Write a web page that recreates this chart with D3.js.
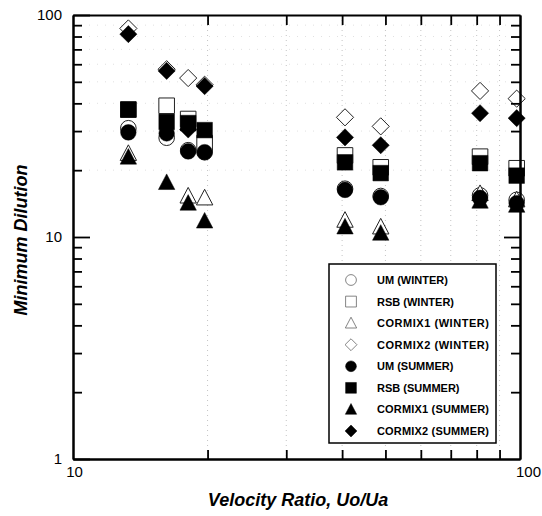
<!DOCTYPE html>
<html>
<head>
<meta charset="utf-8">
<script src="https://cdn.jsdelivr.net/npm/d3@7"></script>
<style>
  body { margin: 0; background: #fff; }
  svg { display: block; font-family: "Liberation Sans", Arial, sans-serif; }
</style>
</head>
<body>
<div id="chart"></div>
<script>
// velocity ratio positions of the point groups
const vr = [13.3, 16.2, 18.1, 19.7, 40.6, 48.8, 81.4, 98.3];

const umWinter      = [30.9, 28.0, 24.6, 24.1, 16.5, 15.3, 15.4, 14.7];
const rsbWinter     = [37.5, 39.0, 34.0, 26.5, 23.3, 20.6, 23.0, 20.4];
const cormix1Winter = [23.8, null, 15.3, 15.0, 11.9, 11.1, 15.7, 14.7];
const cormix2Winter = [87.0, 57.0, 52.0, 48.5, 34.6, 31.5, 45.5, 42.0];
const umSummer      = [29.6, 29.3, 24.3, 24.1, 16.3, 15.1, 15.0, 14.2];
const rsbSummer     = [37.5, 33.0, 32.6, 30.3, 21.7, 19.4, 21.5, 18.9];
const cormix1Summer = [22.9, 17.6, 14.2, 11.8, 11.1, 10.4, 14.5, 13.9];
const cormix2Summer = [82.0, 56.0, 30.5, 47.8, 28.1, 25.9, 36.1, 34.3];

const seriesNames = ["UM (WINTER)", "RSB (WINTER)", "CORMIX1 (WINTER)", "CORMIX2 (WINTER)",
                     "UM (SUMMER)", "RSB (SUMMER)", "CORMIX1 (SUMMER)", "CORMIX2 (SUMMER)"];
const seriesValues = [umWinter, rsbWinter, cormix1Winter, cormix2Winter,
                      umSummer, rsbSummer, cormix1Summer, cormix2Summer];
const seriesShape = ["circle", "square", "triangle", "diamond", "circle", "square", "triangle", "diamond"];
const seriesFilled = [false, false, false, false, true, true, true, true];

const xMajor = [10, 100];
const xMinor = [20, 30, 40, 50, 60, 70, 80, 90];
const yMajor = [1, 10, 100];
const yMinor = [2, 3, 4, 5, 6, 7, 8, 9, 20, 30, 40, 50, 60, 70, 80, 90];

const width = 542, height = 516;
const plotL = 73, plotR = 520, plotT = 15, plotB = 459;

const x = d3.scaleLog().domain([10, 100]).range([plotL, plotR]);
const y = d3.scaleLog().domain([1, 100]).range([plotB, plotT]);

const svg = d3.select("#chart").append("svg")
    .attr("width", width)
    .attr("height", height);

// faint dotted grid
svg.append("g").selectAll("line")
    .data(xMinor)
    .join("line")
    .attr("x1", d => x(d)).attr("x2", d => x(d))
    .attr("y1", plotT).attr("y2", plotB)
    .attr("stroke", "#aaa").attr("stroke-width", 0.7)
    .attr("stroke-dasharray", "1,4");
svg.append("g").selectAll("line")
    .data(yMinor.filter(d => d > 10))
    .join("line")
    .attr("x1", plotL).attr("x2", plotR)
    .attr("y1", d => y(d)).attr("y2", d => y(d))
    .attr("stroke", "#ccc").attr("stroke-width", 0.6)
    .attr("stroke-dasharray", "1,7");

function symbolPath(shape, s) {
  if (shape === "circle") return d3.symbol(d3.symbolCircle, s * s * Math.PI)();
  if (shape === "square") return d3.symbol(d3.symbolSquare, (2 * s) * (2 * s))();
  if (shape === "triangle") {
    const h = s * 2;
    return `M0,${-h * 0.55}L${s * 1.05},${h * 0.45}L${-s * 1.05},${h * 0.45}Z`;
  }
  return `M0,${-s * 1.1}L${s * 1.1},0L0,${s * 1.1}L${-s * 1.1},0Z`;
}

// points: winter (open) drawn first, summer (filled) on top
const pts = svg.append("g");
seriesValues.forEach((vals, i) => {
  const data = vals.map((v, j) => ({ x: vr[j], v: v })).filter(d => d.v != null);
  pts.append("g").selectAll("path")
    .data(data)
    .join("path")
    .attr("transform", d => `translate(${x(d.x)},${y(d.v)})`)
    .attr("d", symbolPath(seriesShape[i], 7.8))
    .attr("fill", seriesFilled[i] ? "#000" : "#fff")
    .attr("stroke", seriesFilled[i] ? "#000" : "#222")
    .attr("stroke-width", seriesFilled[i] ? 0.5 : 1);
});

// axes with inward ticks
function styleAxis(g) {
  g.select(".domain").attr("stroke-width", 2).attr("stroke", "#000");
  g.selectAll(".tick line").attr("stroke-width", 1.8).attr("stroke", "#000");
  g.selectAll(".tick text").attr("font-size", 15).attr("fill", "#000")
    .attr("font-family", "'Liberation Sans', Arial, sans-serif");
}

svg.append("g").attr("transform", `translate(0,${plotB})`)
  .call(d3.axisBottom(x).tickValues(xMinor).tickSize(-9).tickSizeOuter(0).tickFormat(""))
  .call(styleAxis);
svg.append("g").attr("transform", `translate(0,${plotB})`)
  .call(d3.axisBottom(x).tickValues(xMajor).tickSize(0).tickSizeOuter(0).tickPadding(7).tickFormat(d3.format("d")))
  .call(styleAxis)
  .call(g => g.selectAll(".tick text").attr("dx", d => d === 100 ? 8 : 1));

svg.append("g").attr("transform", `translate(0,${plotT})`)
  .call(d3.axisTop(x).tickValues(xMinor).tickSize(-10).tickSizeOuter(0).tickFormat(""))
  .call(styleAxis);

svg.append("g").attr("transform", `translate(${plotL},0)`)
  .call(d3.axisLeft(y).tickValues(yMinor).tickSize(-9).tickSizeOuter(0).tickFormat(""))
  .call(styleAxis);
svg.append("g").attr("transform", `translate(${plotL},0)`)
  .call(d3.axisLeft(y).tickValues(yMajor).tickSize(-17).tickSizeOuter(0).tickFormat(d3.format("d")))
  .call(styleAxis)
  .call(g => g.selectAll(".tick text").attr("x", -11));

svg.append("g").attr("transform", `translate(${plotR},0)`)
  .call(d3.axisRight(y).tickValues(yMinor).tickSize(-9).tickSizeOuter(0).tickFormat(""))
  .call(styleAxis);
svg.append("g").attr("transform", `translate(${plotR},0)`)
  .call(d3.axisRight(y).tickValues([10]).tickSize(-16).tickSizeOuter(0).tickFormat(""))
  .call(styleAxis);

// axis titles
svg.append("text")
  .attr("x", 298).attr("y", 506)
  .attr("text-anchor", "middle")
  .attr("font-size", 18).attr("font-weight", "bold").attr("font-style", "italic")
  .text("Velocity Ratio, Uo/Ua");
svg.append("text")
  .attr("transform", "translate(27,240) rotate(-90)")
  .attr("text-anchor", "middle")
  .attr("font-size", 18).attr("font-weight", "bold").attr("font-style", "italic")
  .text("Minimum Dilution");

// legend
const leg = svg.append("g");
leg.append("rect")
  .attr("x", 329).attr("y", 264).attr("width", 167).attr("height", 179)
  .attr("fill", "#fff").attr("stroke", "#000").attr("stroke-width", 1.5);
const rowY = d3.scaleLinear().domain([0, 7]).range([280, 431]);
seriesNames.forEach((name, i) => {
  leg.append("path")
    .attr("transform", `translate(351,${rowY(i)})`)
    .attr("d", symbolPath(seriesShape[i], 5.4))
    .attr("fill", seriesFilled[i] ? "#000" : "#fff")
    .attr("stroke", seriesFilled[i] ? "#000" : "#666")
    .attr("stroke-width", seriesFilled[i] ? 0.5 : 0.8);
  leg.append("text")
    .attr("x", 377).attr("y", rowY(i) + 4)
    .attr("font-size", 11).attr("font-weight", "bold")
    .attr("textLength", name.length > 12 ? 112 : null)
    .text(name);
});
</script>
</body>
</html>
